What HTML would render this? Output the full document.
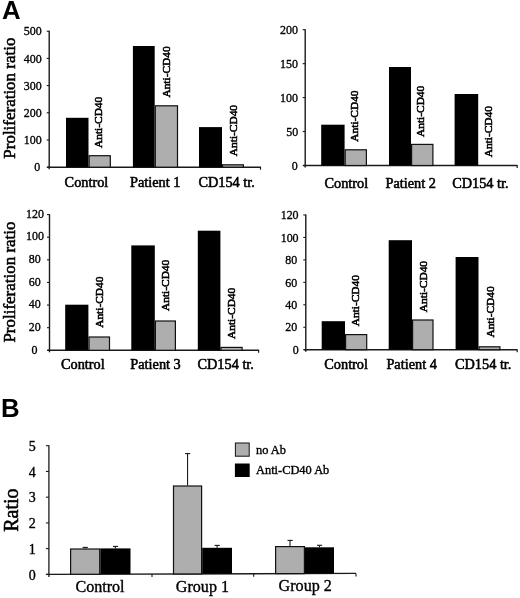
<!DOCTYPE html>
<html lang="en"><head><meta charset="utf-8"><title>Figure</title>
<style>html,body{margin:0;padding:0;background:#fff;}svg{display:block;filter:blur(0.35px);}</style></head><body>
<svg width="520" height="598" viewBox="0 0 520 598">
<rect x="0" y="0" width="520" height="598" fill="#fff"/>
<text transform="translate(1.90 18.75)" font-family='"Liberation Sans", "DejaVu Sans", sans-serif' font-size="25.8" font-weight="bold" text-anchor="start">A</text>
<text transform="translate(1.10 416.90)" font-family='"Liberation Sans", "DejaVu Sans", sans-serif' font-size="25.8" font-weight="bold" text-anchor="start">B</text>
<text transform="translate(14.60 158.70) rotate(-90) scale(0.960 1)" font-family='"Liberation Serif", "DejaVu Serif", serif' font-size="17.7" font-weight="normal" text-anchor="start" stroke="#000" stroke-width="0.55">Proliferation ratio</text>
<text transform="translate(14.50 342.60) rotate(-90) scale(0.960 1)" font-family='"Liberation Serif", "DejaVu Serif", serif' font-size="17.7" font-weight="normal" text-anchor="start" stroke="#000" stroke-width="0.55">Proliferation ratio</text>
<text transform="translate(18.30 531.80) rotate(-90)" font-family='"Liberation Serif", "DejaVu Serif", serif' font-size="20" font-weight="normal" text-anchor="start" stroke="#000" stroke-width="0.55">Ratio</text>
<line x1="49.20" y1="30.70" x2="49.20" y2="169.20" stroke="#1a1a1a" stroke-width="1.4"/>
<line x1="47.20" y1="167.20" x2="260.50" y2="167.20" stroke="#1a1a1a" stroke-width="1.5"/>
<line x1="260.50" y1="166.70" x2="260.50" y2="169.70" stroke="#1a1a1a" stroke-width="1.2"/>
<line x1="46.70" y1="167.20" x2="49.20" y2="167.20" stroke="#1a1a1a" stroke-width="1.1"/>
<text transform="translate(40.30 171.40) scale(0.900 1)" font-family='"Liberation Serif", "DejaVu Serif", serif' font-size="13.3" font-weight="normal" text-anchor="end" stroke="#000" stroke-width="0.35">0</text>
<line x1="46.70" y1="140.00" x2="49.20" y2="140.00" stroke="#1a1a1a" stroke-width="1.1"/>
<text transform="translate(41.80 144.20) scale(0.900 1)" font-family='"Liberation Serif", "DejaVu Serif", serif' font-size="13.3" font-weight="normal" text-anchor="end" stroke="#000" stroke-width="0.35">100</text>
<line x1="46.70" y1="112.80" x2="49.20" y2="112.80" stroke="#1a1a1a" stroke-width="1.1"/>
<text transform="translate(41.80 117.00) scale(0.900 1)" font-family='"Liberation Serif", "DejaVu Serif", serif' font-size="13.3" font-weight="normal" text-anchor="end" stroke="#000" stroke-width="0.35">200</text>
<line x1="46.70" y1="85.60" x2="49.20" y2="85.60" stroke="#1a1a1a" stroke-width="1.1"/>
<text transform="translate(41.80 89.80) scale(0.900 1)" font-family='"Liberation Serif", "DejaVu Serif", serif' font-size="13.3" font-weight="normal" text-anchor="end" stroke="#000" stroke-width="0.35">300</text>
<line x1="46.70" y1="58.40" x2="49.20" y2="58.40" stroke="#1a1a1a" stroke-width="1.1"/>
<text transform="translate(41.80 62.60) scale(0.900 1)" font-family='"Liberation Serif", "DejaVu Serif", serif' font-size="13.3" font-weight="normal" text-anchor="end" stroke="#000" stroke-width="0.35">400</text>
<line x1="46.70" y1="31.20" x2="49.20" y2="31.20" stroke="#1a1a1a" stroke-width="1.1"/>
<text transform="translate(41.80 35.40) scale(0.900 1)" font-family='"Liberation Serif", "DejaVu Serif", serif' font-size="13.3" font-weight="normal" text-anchor="end" stroke="#000" stroke-width="0.35">500</text>
<rect x="66.00" y="117.80" width="22.50" height="49.40" fill="#000"/>
<rect x="89.10" y="155.70" width="21.20" height="11.50" fill="#aeaeae" stroke="#111" stroke-width="1.2"/>
<rect x="132.90" y="46.00" width="21.80" height="121.20" fill="#000"/>
<rect x="155.30" y="105.80" width="22.20" height="61.40" fill="#aeaeae" stroke="#111" stroke-width="1.2"/>
<rect x="199.00" y="127.10" width="23.00" height="40.10" fill="#000"/>
<rect x="222.60" y="164.80" width="20.80" height="2.40" fill="#aeaeae" stroke="#111" stroke-width="1.2"/>
<text transform="translate(102.20 148.00) rotate(-90)" font-family='"Liberation Serif", "DejaVu Serif", serif' font-size="11.4" font-weight="normal" text-anchor="start" stroke="#000" stroke-width="0.55">Anti-CD40</text>
<text transform="translate(170.20 97.60) rotate(-90)" font-family='"Liberation Serif", "DejaVu Serif", serif' font-size="11.4" font-weight="normal" text-anchor="start" stroke="#000" stroke-width="0.55">Anti-CD40</text>
<text transform="translate(236.50 156.20) rotate(-90)" font-family='"Liberation Serif", "DejaVu Serif", serif' font-size="11.4" font-weight="normal" text-anchor="start" stroke="#000" stroke-width="0.55">Anti-CD40</text>
<text transform="translate(64.60 186.80)" font-family='"Liberation Serif", "DejaVu Serif", serif' font-size="14.3" font-weight="normal" text-anchor="start" stroke="#000" stroke-width="0.55">Control</text>
<text transform="translate(130.00 186.80)" font-family='"Liberation Serif", "DejaVu Serif", serif' font-size="14.3" font-weight="normal" text-anchor="start" stroke="#000" stroke-width="0.55">Patient 1</text>
<text transform="translate(198.40 186.80)" font-family='"Liberation Serif", "DejaVu Serif", serif' font-size="14.3" font-weight="normal" text-anchor="start" stroke="#000" stroke-width="0.55">CD154 tr.</text>
<line x1="305.20" y1="29.20" x2="305.20" y2="167.50" stroke="#1a1a1a" stroke-width="1.4"/>
<line x1="303.20" y1="165.50" x2="517.20" y2="165.50" stroke="#1a1a1a" stroke-width="1.5"/>
<line x1="517.20" y1="165.00" x2="517.20" y2="168.00" stroke="#1a1a1a" stroke-width="1.2"/>
<line x1="302.70" y1="165.50" x2="305.20" y2="165.50" stroke="#1a1a1a" stroke-width="1.1"/>
<text transform="translate(297.80 169.70) scale(0.900 1)" font-family='"Liberation Serif", "DejaVu Serif", serif' font-size="13.3" font-weight="normal" text-anchor="end" stroke="#000" stroke-width="0.35">0</text>
<line x1="302.70" y1="131.55" x2="305.20" y2="131.55" stroke="#1a1a1a" stroke-width="1.1"/>
<text transform="translate(298.20 135.75) scale(0.900 1)" font-family='"Liberation Serif", "DejaVu Serif", serif' font-size="13.3" font-weight="normal" text-anchor="end" stroke="#000" stroke-width="0.35">50</text>
<line x1="302.70" y1="97.60" x2="305.20" y2="97.60" stroke="#1a1a1a" stroke-width="1.1"/>
<text transform="translate(298.00 101.80) scale(0.900 1)" font-family='"Liberation Serif", "DejaVu Serif", serif' font-size="13.3" font-weight="normal" text-anchor="end" stroke="#000" stroke-width="0.35">100</text>
<line x1="302.70" y1="63.65" x2="305.20" y2="63.65" stroke="#1a1a1a" stroke-width="1.1"/>
<text transform="translate(298.00 67.85) scale(0.900 1)" font-family='"Liberation Serif", "DejaVu Serif", serif' font-size="13.3" font-weight="normal" text-anchor="end" stroke="#000" stroke-width="0.35">150</text>
<line x1="302.70" y1="29.70" x2="305.20" y2="29.70" stroke="#1a1a1a" stroke-width="1.1"/>
<text transform="translate(298.00 33.90) scale(0.900 1)" font-family='"Liberation Serif", "DejaVu Serif", serif' font-size="13.3" font-weight="normal" text-anchor="end" stroke="#000" stroke-width="0.35">200</text>
<rect x="321.20" y="124.70" width="23.40" height="40.80" fill="#000"/>
<rect x="345.20" y="149.80" width="21.20" height="15.70" fill="#aeaeae" stroke="#111" stroke-width="1.2"/>
<rect x="389.00" y="67.00" width="22.00" height="98.50" fill="#000"/>
<rect x="411.60" y="144.40" width="21.30" height="21.10" fill="#aeaeae" stroke="#111" stroke-width="1.2"/>
<rect x="454.60" y="94.00" width="23.60" height="71.50" fill="#000"/>
<text transform="translate(358.20 141.70) rotate(-90)" font-family='"Liberation Serif", "DejaVu Serif", serif' font-size="11.4" font-weight="normal" text-anchor="start" stroke="#000" stroke-width="0.55">Anti-CD40</text>
<text transform="translate(424.30 137.00) rotate(-90)" font-family='"Liberation Serif", "DejaVu Serif", serif' font-size="11.4" font-weight="normal" text-anchor="start" stroke="#000" stroke-width="0.55">Anti-CD40</text>
<text transform="translate(492.10 157.30) rotate(-90)" font-family='"Liberation Serif", "DejaVu Serif", serif' font-size="11.4" font-weight="normal" text-anchor="start" stroke="#000" stroke-width="0.55">Anti-CD40</text>
<text transform="translate(324.50 187.60)" font-family='"Liberation Serif", "DejaVu Serif", serif' font-size="14.3" font-weight="normal" text-anchor="start" stroke="#000" stroke-width="0.55">Control</text>
<text transform="translate(385.50 187.60)" font-family='"Liberation Serif", "DejaVu Serif", serif' font-size="14.3" font-weight="normal" text-anchor="start" stroke="#000" stroke-width="0.55">Patient 2</text>
<text transform="translate(452.20 187.60)" font-family='"Liberation Serif", "DejaVu Serif", serif' font-size="14.3" font-weight="normal" text-anchor="start" stroke="#000" stroke-width="0.55">CD154 tr.</text>
<line x1="49.50" y1="214.10" x2="49.50" y2="352.30" stroke="#1a1a1a" stroke-width="1.4"/>
<line x1="47.50" y1="350.30" x2="258.60" y2="350.30" stroke="#1a1a1a" stroke-width="1.5"/>
<line x1="258.60" y1="349.80" x2="258.60" y2="352.80" stroke="#1a1a1a" stroke-width="1.2"/>
<line x1="47.00" y1="350.30" x2="49.50" y2="350.30" stroke="#1a1a1a" stroke-width="1.1"/>
<text transform="translate(37.40 353.50) scale(0.900 1)" font-family='"Liberation Serif", "DejaVu Serif", serif' font-size="13.3" font-weight="normal" text-anchor="end" stroke="#000" stroke-width="0.35">0</text>
<line x1="47.00" y1="327.68" x2="49.50" y2="327.68" stroke="#1a1a1a" stroke-width="1.1"/>
<text transform="translate(40.80 330.88) scale(0.900 1)" font-family='"Liberation Serif", "DejaVu Serif", serif' font-size="13.3" font-weight="normal" text-anchor="end" stroke="#000" stroke-width="0.35">20</text>
<line x1="47.00" y1="305.07" x2="49.50" y2="305.07" stroke="#1a1a1a" stroke-width="1.1"/>
<text transform="translate(40.80 308.27) scale(0.900 1)" font-family='"Liberation Serif", "DejaVu Serif", serif' font-size="13.3" font-weight="normal" text-anchor="end" stroke="#000" stroke-width="0.35">40</text>
<line x1="47.00" y1="282.45" x2="49.50" y2="282.45" stroke="#1a1a1a" stroke-width="1.1"/>
<text transform="translate(40.80 285.65) scale(0.900 1)" font-family='"Liberation Serif", "DejaVu Serif", serif' font-size="13.3" font-weight="normal" text-anchor="end" stroke="#000" stroke-width="0.35">60</text>
<line x1="47.00" y1="259.83" x2="49.50" y2="259.83" stroke="#1a1a1a" stroke-width="1.1"/>
<text transform="translate(40.80 263.03) scale(0.900 1)" font-family='"Liberation Serif", "DejaVu Serif", serif' font-size="13.3" font-weight="normal" text-anchor="end" stroke="#000" stroke-width="0.35">80</text>
<line x1="47.00" y1="237.22" x2="49.50" y2="237.22" stroke="#1a1a1a" stroke-width="1.1"/>
<text transform="translate(44.00 240.42) scale(0.900 1)" font-family='"Liberation Serif", "DejaVu Serif", serif' font-size="13.3" font-weight="normal" text-anchor="end" stroke="#000" stroke-width="0.35">100</text>
<line x1="47.00" y1="214.60" x2="49.50" y2="214.60" stroke="#1a1a1a" stroke-width="1.1"/>
<text transform="translate(44.00 217.80) scale(0.900 1)" font-family='"Liberation Serif", "DejaVu Serif", serif' font-size="13.3" font-weight="normal" text-anchor="end" stroke="#000" stroke-width="0.35">120</text>
<rect x="65.20" y="304.70" width="23.20" height="45.60" fill="#000"/>
<rect x="89.00" y="337.00" width="20.50" height="13.30" fill="#aeaeae" stroke="#111" stroke-width="1.2"/>
<rect x="131.30" y="245.40" width="23.50" height="104.90" fill="#000"/>
<rect x="155.40" y="321.00" width="20.00" height="29.30" fill="#aeaeae" stroke="#111" stroke-width="1.2"/>
<rect x="197.80" y="230.70" width="22.60" height="119.60" fill="#000"/>
<rect x="221.00" y="347.40" width="21.10" height="2.90" fill="#aeaeae" stroke="#111" stroke-width="1.2"/>
<text transform="translate(103.20 327.80) rotate(-90)" font-family='"Liberation Serif", "DejaVu Serif", serif' font-size="11.4" font-weight="normal" text-anchor="start" stroke="#000" stroke-width="0.55">Anti-CD40</text>
<text transform="translate(168.70 311.00) rotate(-90)" font-family='"Liberation Serif", "DejaVu Serif", serif' font-size="11.4" font-weight="normal" text-anchor="start" stroke="#000" stroke-width="0.55">Anti-CD40</text>
<text transform="translate(235.00 339.00) rotate(-90)" font-family='"Liberation Serif", "DejaVu Serif", serif' font-size="11.4" font-weight="normal" text-anchor="start" stroke="#000" stroke-width="0.55">Anti-CD40</text>
<text transform="translate(61.00 369.10)" font-family='"Liberation Serif", "DejaVu Serif", serif' font-size="14.3" font-weight="normal" text-anchor="start" stroke="#000" stroke-width="0.55">Control</text>
<text transform="translate(130.30 369.10)" font-family='"Liberation Serif", "DejaVu Serif", serif' font-size="14.3" font-weight="normal" text-anchor="start" stroke="#000" stroke-width="0.55">Patient 3</text>
<text transform="translate(197.50 369.10)" font-family='"Liberation Serif", "DejaVu Serif", serif' font-size="14.3" font-weight="normal" text-anchor="start" stroke="#000" stroke-width="0.55">CD154 tr.</text>
<line x1="305.80" y1="214.50" x2="305.80" y2="351.70" stroke="#1a1a1a" stroke-width="1.4"/>
<line x1="303.80" y1="349.70" x2="517.20" y2="349.70" stroke="#1a1a1a" stroke-width="1.5"/>
<line x1="517.20" y1="349.20" x2="517.20" y2="352.20" stroke="#1a1a1a" stroke-width="1.2"/>
<line x1="303.30" y1="349.70" x2="305.80" y2="349.70" stroke="#1a1a1a" stroke-width="1.1"/>
<text transform="translate(298.70 353.90) scale(0.900 1)" font-family='"Liberation Serif", "DejaVu Serif", serif' font-size="13.3" font-weight="normal" text-anchor="end" stroke="#000" stroke-width="0.35">0</text>
<line x1="303.30" y1="327.25" x2="305.80" y2="327.25" stroke="#1a1a1a" stroke-width="1.1"/>
<text transform="translate(297.30 331.45) scale(0.900 1)" font-family='"Liberation Serif", "DejaVu Serif", serif' font-size="13.3" font-weight="normal" text-anchor="end" stroke="#000" stroke-width="0.35">20</text>
<line x1="303.30" y1="304.80" x2="305.80" y2="304.80" stroke="#1a1a1a" stroke-width="1.1"/>
<text transform="translate(297.30 309.00) scale(0.900 1)" font-family='"Liberation Serif", "DejaVu Serif", serif' font-size="13.3" font-weight="normal" text-anchor="end" stroke="#000" stroke-width="0.35">40</text>
<line x1="303.30" y1="282.35" x2="305.80" y2="282.35" stroke="#1a1a1a" stroke-width="1.1"/>
<text transform="translate(297.30 286.55) scale(0.900 1)" font-family='"Liberation Serif", "DejaVu Serif", serif' font-size="13.3" font-weight="normal" text-anchor="end" stroke="#000" stroke-width="0.35">60</text>
<line x1="303.30" y1="259.90" x2="305.80" y2="259.90" stroke="#1a1a1a" stroke-width="1.1"/>
<text transform="translate(297.30 264.10) scale(0.900 1)" font-family='"Liberation Serif", "DejaVu Serif", serif' font-size="13.3" font-weight="normal" text-anchor="end" stroke="#000" stroke-width="0.35">80</text>
<line x1="303.30" y1="237.45" x2="305.80" y2="237.45" stroke="#1a1a1a" stroke-width="1.1"/>
<text transform="translate(298.60 241.65) scale(0.900 1)" font-family='"Liberation Serif", "DejaVu Serif", serif' font-size="13.3" font-weight="normal" text-anchor="end" stroke="#000" stroke-width="0.35">100</text>
<line x1="303.30" y1="215.00" x2="305.80" y2="215.00" stroke="#1a1a1a" stroke-width="1.1"/>
<text transform="translate(298.60 219.20) scale(0.900 1)" font-family='"Liberation Serif", "DejaVu Serif", serif' font-size="13.3" font-weight="normal" text-anchor="end" stroke="#000" stroke-width="0.35">120</text>
<rect x="321.70" y="321.20" width="23.30" height="28.50" fill="#000"/>
<rect x="345.60" y="334.60" width="21.10" height="15.10" fill="#aeaeae" stroke="#111" stroke-width="1.2"/>
<rect x="388.70" y="240.20" width="23.30" height="109.50" fill="#000"/>
<rect x="412.60" y="320.00" width="20.40" height="29.70" fill="#aeaeae" stroke="#111" stroke-width="1.2"/>
<rect x="455.60" y="257.00" width="22.90" height="92.70" fill="#000"/>
<rect x="479.10" y="346.80" width="20.80" height="2.90" fill="#aeaeae" stroke="#111" stroke-width="1.2"/>
<text transform="translate(358.60 326.30) rotate(-90)" font-family='"Liberation Serif", "DejaVu Serif", serif' font-size="11.4" font-weight="normal" text-anchor="start" stroke="#000" stroke-width="0.55">Anti-CD40</text>
<text transform="translate(426.80 312.20) rotate(-90)" font-family='"Liberation Serif", "DejaVu Serif", serif' font-size="11.4" font-weight="normal" text-anchor="start" stroke="#000" stroke-width="0.55">Anti-CD40</text>
<text transform="translate(494.00 337.60) rotate(-90)" font-family='"Liberation Serif", "DejaVu Serif", serif' font-size="11.4" font-weight="normal" text-anchor="start" stroke="#000" stroke-width="0.55">Anti-CD40</text>
<text transform="translate(324.30 369.10)" font-family='"Liberation Serif", "DejaVu Serif", serif' font-size="14.3" font-weight="normal" text-anchor="start" stroke="#000" stroke-width="0.55">Control</text>
<text transform="translate(386.40 369.10)" font-family='"Liberation Serif", "DejaVu Serif", serif' font-size="14.3" font-weight="normal" text-anchor="start" stroke="#000" stroke-width="0.55">Patient 4</text>
<text transform="translate(455.00 369.10)" font-family='"Liberation Serif", "DejaVu Serif", serif' font-size="14.3" font-weight="normal" text-anchor="start" stroke="#000" stroke-width="0.55">CD154 tr.</text>
<line x1="48.90" y1="445.20" x2="48.90" y2="576.90" stroke="#1a1a1a" stroke-width="1.3"/>
<line x1="46.40" y1="574.40" x2="356.00" y2="573.40" stroke="#1a1a1a" stroke-width="1.4"/>
<line x1="45.90" y1="574.40" x2="48.90" y2="574.40" stroke="#1a1a1a" stroke-width="1.1"/>
<text transform="translate(35.80 579.70)" font-family='"Liberation Serif", "DejaVu Serif", serif' font-size="14" font-weight="normal" text-anchor="end" stroke="#000" stroke-width="0.35">0</text>
<line x1="45.90" y1="548.66" x2="48.90" y2="548.66" stroke="#1a1a1a" stroke-width="1.1"/>
<text transform="translate(35.80 553.96)" font-family='"Liberation Serif", "DejaVu Serif", serif' font-size="14" font-weight="normal" text-anchor="end" stroke="#000" stroke-width="0.35">1</text>
<line x1="45.90" y1="522.92" x2="48.90" y2="522.92" stroke="#1a1a1a" stroke-width="1.1"/>
<text transform="translate(35.80 528.22)" font-family='"Liberation Serif", "DejaVu Serif", serif' font-size="14" font-weight="normal" text-anchor="end" stroke="#000" stroke-width="0.35">2</text>
<line x1="45.90" y1="497.18" x2="48.90" y2="497.18" stroke="#1a1a1a" stroke-width="1.1"/>
<text transform="translate(35.80 502.48)" font-family='"Liberation Serif", "DejaVu Serif", serif' font-size="14" font-weight="normal" text-anchor="end" stroke="#000" stroke-width="0.35">3</text>
<line x1="45.90" y1="471.44" x2="48.90" y2="471.44" stroke="#1a1a1a" stroke-width="1.1"/>
<text transform="translate(35.80 476.74)" font-family='"Liberation Serif", "DejaVu Serif", serif' font-size="14" font-weight="normal" text-anchor="end" stroke="#000" stroke-width="0.35">4</text>
<line x1="45.90" y1="445.70" x2="48.90" y2="445.70" stroke="#1a1a1a" stroke-width="1.1"/>
<text transform="translate(35.80 451.00)" font-family='"Liberation Serif", "DejaVu Serif", serif' font-size="14" font-weight="normal" text-anchor="end" stroke="#000" stroke-width="0.35">5</text>
<line x1="152.00" y1="574.06" x2="152.00" y2="577.06" stroke="#1a1a1a" stroke-width="1.1"/>
<line x1="253.70" y1="573.73" x2="253.70" y2="576.73" stroke="#1a1a1a" stroke-width="1.1"/>
<line x1="356.00" y1="573.40" x2="356.00" y2="576.40" stroke="#1a1a1a" stroke-width="1.1"/>
<line x1="85.15" y1="547.40" x2="85.15" y2="548.40" stroke="#1a1a1a" stroke-width="1.1"/>
<line x1="82.65" y1="547.40" x2="87.85" y2="547.40" stroke="#1a1a1a" stroke-width="1.1"/>
<rect x="70.60" y="549.00" width="29.10" height="25.28" fill="#aeaeae" stroke="#111" stroke-width="1.2"/>
<line x1="115.40" y1="546.40" x2="115.40" y2="548.40" stroke="#1a1a1a" stroke-width="1.1"/>
<line x1="112.90" y1="546.40" x2="118.10" y2="546.40" stroke="#1a1a1a" stroke-width="1.1"/>
<rect x="100.30" y="548.40" width="30.20" height="25.78" fill="#000"/>
<line x1="187.55" y1="453.60" x2="187.55" y2="485.40" stroke="#1a1a1a" stroke-width="1.1"/>
<line x1="185.05" y1="453.60" x2="190.25" y2="453.60" stroke="#1a1a1a" stroke-width="1.1"/>
<rect x="173.50" y="486.00" width="28.10" height="87.95" fill="#aeaeae" stroke="#111" stroke-width="1.2"/>
<line x1="217.10" y1="545.40" x2="217.10" y2="547.80" stroke="#1a1a1a" stroke-width="1.1"/>
<line x1="214.60" y1="545.40" x2="219.80" y2="545.40" stroke="#1a1a1a" stroke-width="1.1"/>
<rect x="202.20" y="547.80" width="29.80" height="26.05" fill="#000"/>
<line x1="290.00" y1="540.40" x2="290.00" y2="546.00" stroke="#1a1a1a" stroke-width="1.1"/>
<line x1="287.50" y1="540.40" x2="292.70" y2="540.40" stroke="#1a1a1a" stroke-width="1.1"/>
<rect x="275.60" y="546.60" width="28.80" height="27.01" fill="#aeaeae" stroke="#111" stroke-width="1.2"/>
<line x1="319.50" y1="545.30" x2="319.50" y2="547.30" stroke="#1a1a1a" stroke-width="1.1"/>
<line x1="317.00" y1="545.30" x2="322.20" y2="545.30" stroke="#1a1a1a" stroke-width="1.1"/>
<rect x="305.00" y="547.30" width="29.00" height="26.22" fill="#000"/>
<text transform="translate(75.40 592.00)" font-family='"Liberation Serif", "DejaVu Serif", serif' font-size="16.1" font-weight="normal" text-anchor="start" stroke="#000" stroke-width="0.35">Control</text>
<text transform="translate(175.80 591.66)" font-family='"Liberation Serif", "DejaVu Serif", serif' font-size="16.1" font-weight="normal" text-anchor="start" stroke="#000" stroke-width="0.35">Group 1</text>
<text transform="translate(278.60 591.32)" font-family='"Liberation Serif", "DejaVu Serif", serif' font-size="16.1" font-weight="normal" text-anchor="start" stroke="#000" stroke-width="0.35">Group 2</text>
<rect x="235.40" y="443.00" width="13.80" height="13.20" fill="#aeaeae" stroke="#111" stroke-width="1"/>
<rect x="234.90" y="463.50" width="14.80" height="13.50" fill="#000"/>
<text transform="translate(256.00 454.00)" font-family='"Liberation Serif", "DejaVu Serif", serif' font-size="12.4" font-weight="normal" text-anchor="start" stroke="#000" stroke-width="0.35">no Ab</text>
<text transform="translate(256.00 473.80)" font-family='"Liberation Serif", "DejaVu Serif", serif' font-size="12.4" font-weight="normal" text-anchor="start" stroke="#000" stroke-width="0.35">Anti-CD40 Ab</text>
</svg></body></html>
